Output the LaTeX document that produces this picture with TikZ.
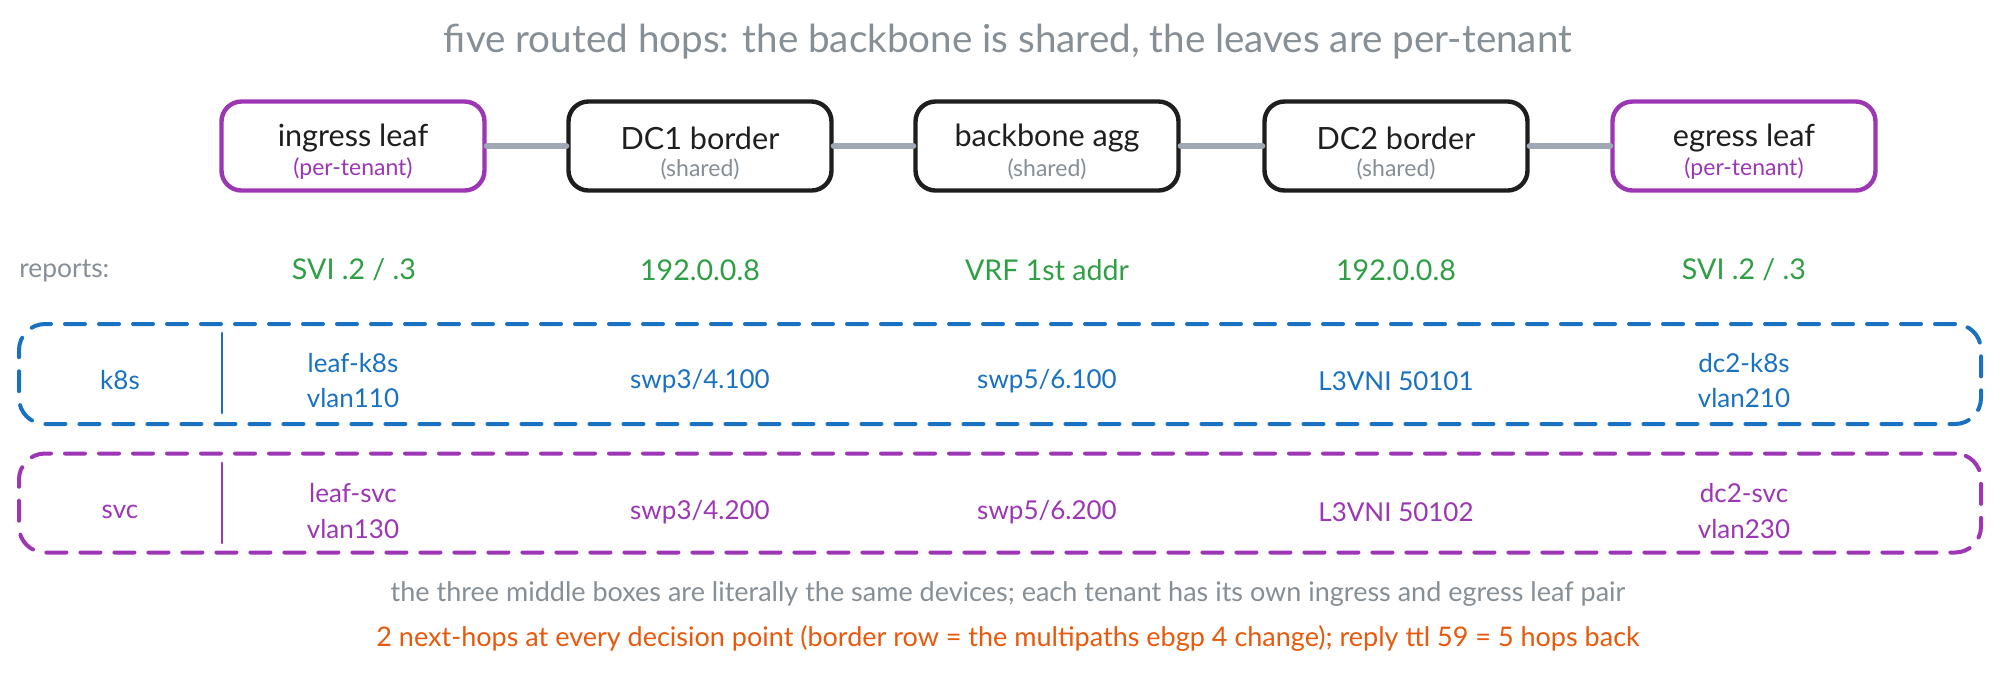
\documentclass[tikz,border=0pt]{standalone}
\usepackage{fontspec}
\setmainfont{Lato}
\definecolor{cviolet}{HTML}{9C36B5}
\definecolor{cblue}{HTML}{1971C2}
\definecolor{cgreen}{HTML}{2F9E44}
\definecolor{cgray}{HTML}{868E96}
\definecolor{clink}{HTML}{A0A8B5}
\definecolor{corange}{HTML}{E8590C}
\definecolor{cink}{HTML}{1E1E1E}
\tikzset{
  hop/.style={draw=cink, line width=2.2pt, rounded corners=10pt, minimum width=131.5pt, minimum height=44.5pt, inner sep=0pt},
  tenanthop/.style={hop, draw=cviolet},
  hoptitle/.style={text=cink, font=\fontsize{15.3}{17}\selectfont, inner sep=0pt},
  hopsub/.style={text=cgray, font=\fontsize{11.5}{13}\selectfont, inner sep=0pt},
  tenantsub/.style={hopsub, text=cviolet},
  link/.style={draw=clink, line width=3pt, line cap=round},
  titletext/.style={text=cgray, font=\fontsize{19.3}{23}\selectfont, inner sep=0pt},
  report/.style={text=cgreen, font=\fontsize{14.3}{16}\selectfont, inner sep=0pt},
  rowbox/.style={dashed, line width=2pt, line cap=round, dash pattern=on 10pt off 7pt, rounded corners=13pt, inner sep=0pt},
  rowtext/.style={font=\fontsize{13}{15}\selectfont, inner sep=0pt},
  divider/.style={line width=1.3pt, line cap=round},
  note/.style={font=\fontsize{13.5}{16}\selectfont, inner sep=0pt},
}
\begin{document}
\begin{tikzpicture}[x=0.5pt,y=-0.5pt]
\useasboundingbox[fill=white] (0,0) rectangle (2000,677);

\node[titletext] (title) at (1008,42) {five routed hops: the backbone is shared, the leaves are per-tenant};

% hop boxes
\node[tenanthop] (ingress) at (353,146) {};
\node[hop] (dc1) at (700,146) {};
\node[hop] (agg) at (1047,146) {};
\node[hop] (dc2) at (1396,146) {};
\node[tenanthop] (egress) at (1744,146) {};

\node[hoptitle] (ingressT) at (353,138) {ingress leaf};
\node[tenantsub] (ingressS) at (353,169) {(per-tenant)};
\node[hoptitle] (dc1T) at (700,138) {DC1 border};
\node[hopsub] (dc1S) at (700,169) {(shared)};
\node[hoptitle] (aggT) at (1047,138) {backbone agg};
\node[hopsub] (aggS) at (1047,169) {(shared)};
\node[hoptitle] (dc2T) at (1396,138) {DC2 border};
\node[hopsub] (dc2S) at (1396,169) {(shared)};
\node[hoptitle] (egressT) at (1744,138) {egress leaf};
\node[tenantsub] (egressS) at (1744,169) {(per-tenant)};

\draw[link] (ingress) -- (dc1);
\draw[link] (dc1) -- (agg);
\draw[link] (agg) -- (dc2);
\draw[link] (dc2) -- (egress);

% reports
\node[text=cgray, font=\fontsize{13.2}{15}\selectfont, inner sep=0pt, anchor=west] (reports) at (19,271) {reports:};
\node[report] (r1) at (354,270) {SVI .2 / .3};
\node[report] (r2) at (700,270) {192.0.0.8};
\node[report] (r3) at (1047,270) {VRF 1st addr};
\node[report] (r4) at (1396,270) {192.0.0.8};
\node[report] (r5) at (1744,270) {SVI .2 / .3};

% k8s row
\node[rowbox, draw=cblue, minimum width=981pt, minimum height=50pt] (k8srow) at (1000,374) {};
\draw[divider, cblue] (222,333) -- (222,413);
\node[rowtext, text=cblue] (k8s) at (120,380) {k8s};
\node[rowtext, text=cblue] (k8s1a) at (353,363) {leaf-k8s};
\node[rowtext, text=cblue] (k8s1b) at (353,398) {vlan110};
\node[rowtext, text=cblue] (k8s2) at (700,381) {swp3/4.100};
\node[rowtext, text=cblue] (k8s3) at (1047,381) {swp5/6.100};
\node[rowtext, text=cblue] (k8s4) at (1396,381) {L3VNI 50101};
\node[rowtext, text=cblue] (k8s5a) at (1744,363) {dc2-k8s};
\node[rowtext, text=cblue] (k8s5b) at (1744,398) {vlan210};

% svc row
\node[rowbox, draw=cviolet, minimum width=981pt, minimum height=49.5pt] (svcrow) at (1000,503) {};
\draw[divider, cviolet] (222,463) -- (222,543);
\node[rowtext, text=cviolet] (svc) at (120,512) {svc};
\node[rowtext, text=cviolet] (svc1a) at (353,493) {leaf-svc};
\node[rowtext, text=cviolet] (svc1b) at (353,529) {vlan130};
\node[rowtext, text=cviolet] (svc2) at (700,512) {swp3/4.200};
\node[rowtext, text=cviolet] (svc3) at (1047,512) {swp5/6.200};
\node[rowtext, text=cviolet] (svc4) at (1396,512) {L3VNI 50102};
\node[rowtext, text=cviolet] (svc5a) at (1744,493) {dc2-svc};
\node[rowtext, text=cviolet] (svc5b) at (1744,529) {vlan230};

% notes
\node[note, text=cgray] (note1) at (1008,594) {the three middle boxes are literally the same devices; each tenant has its own ingress and egress leaf pair};
\node[note, text=corange] (note2) at (1008,638) {2 next-hops at every decision point (border row = the multipaths ebgp 4 change); reply ttl 59 = 5 hops back};
\end{tikzpicture}
\end{document}
